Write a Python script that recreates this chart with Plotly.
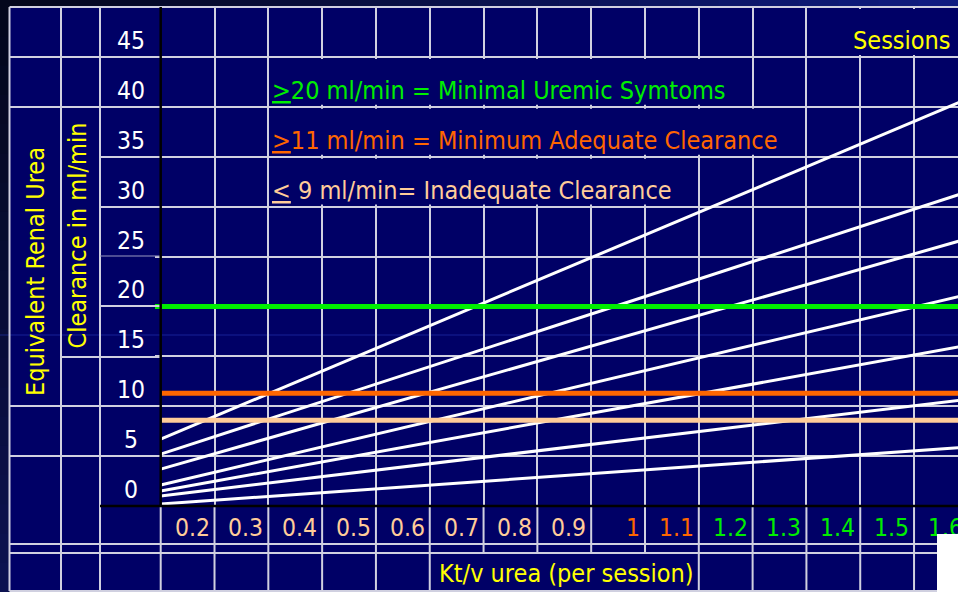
import plotly.graph_objects as go

# ---------------- data ----------------
ktv_span = [0.1, 1.6]                 # Kt/V at the two ends of every session line
session_line_1 = [6.7, 40.8]
session_line_2 = [5.2, 31.5]
session_line_3 = [3.7, 26.8]
session_line_4 = [2.1, 21.2]
session_line_5 = [1.5, 16.1]
session_line_6 = [1.0, 10.7]
session_line_7 = [0.2, 5.9]
session_lines = [session_line_1, session_line_2, session_line_3, session_line_4,
                 session_line_5, session_line_6, session_line_7]

threshold_values = [20.0, 11.3, 8.6]          # ml/min
threshold_start = [0.089, 0.1, 0.1]           # Kt/V where each threshold line starts
threshold_end = [1.6, 1.6, 1.6]

legend_texts = ["<u>&gt;</u>20 ml/min = Minimal Uremic Symtoms",
                "<u>&gt;</u>11 ml/min = Minimum Adequate Clearance",
                "<u>&lt;</u> 9 ml/min= Inadequate Clearance"]
legend_rows = [40, 35, 30]

x_tick_values = [0.2, 0.3, 0.4, 0.5, 0.6, 0.7, 0.8, 0.9, 1.0, 1.1, 1.2, 1.3, 1.4, 1.5, 1.6]
x_tick_labels = ["0.2", "0.3", "0.4", "0.5", "0.6", "0.7", "0.8", "0.9",
                 "1", "1.1", "1.2", "1.3", "1.4", "1.5", "1.6"]
y_tick_values = [0, 5, 10, 15, 20, 25, 30, 35, 40, 45]
y_tick_labels = ["0", "5", "10", "15", "20", "25", "30", "35", "40", "45"]

y_title_1 = "Equivalent Renal Urea"
y_title_2 = "Clearance in ml/min"
x_title = "Kt/v urea (per session)"
corner_title = "Sessions"

# ---------------- styles / layout ----------------
GREEN, ORANGE, PEACH = "#00EE00", "#FF6600", "#FFCC99"
threshold_colors = [GREEN, ORANGE, PEACH]
x_label_colors = [PEACH] * 8 + [ORANGE] * 2 + [GREEN] * 5
YELLOW = "#FFFF00"
NAVY = "#000066"
GRID = "#D0D0E0"
FONT = "'DejaVu Sans Condensed', 'Liberation Sans Narrow', sans-serif"
TXT = 25
TICK = 24.5

W, H = 958, 592
ML, MT, MB = 155, 7, 86
PW, PH = W - ML, H - MT - MB
X0PX, PXU = 160.7, 538.1          # pixel of Kt/V 0.1, pixels per Kt/V unit
XR = [0.1 - (X0PX - ML) / PXU, 0.1 + (W - X0PX) / PXU]
YR = [0, 50]


def px_of(v):
    return X0PX + (v - 0.1) * PXU


def paper_x(px):
    return (px - ML) / PW


def paper_y(py):
    return (MT + PH - py) / PH


fig = go.Figure()

for vals in session_lines:
    fig.add_trace(go.Scatter(x=ktv_span, y=vals, mode="lines",
                             line=dict(color="white", width=3),
                             hoverinfo="skip", showlegend=False))
for v, c, s, e in zip(threshold_values, threshold_colors, threshold_start, threshold_end):
    fig.add_trace(go.Scatter(x=[s, e], y=[v, v], mode="lines",
                             line=dict(color=c, width=5),
                             hoverinfo="skip", showlegend=False))

shapes = []


def pline(x0, y0, x1, y1, color=GRID, width=2, layer="above"):
    shapes.append(dict(type="line", xref="paper", yref="paper",
                       x0=paper_x(x0), x1=paper_x(x1), y0=paper_y(y0), y1=paper_y(y1),
                       line=dict(color=color, width=width), layer=layer))


def prect(x0, y0, x1, y1, color, layer="below"):
    shapes.append(dict(type="rect", xref="paper", yref="paper",
                       x0=paper_x(x0), x1=paper_x(x1), y0=paper_y(y0), y1=paper_y(y1),
                       line=dict(width=0), fillcolor=color, layer=layer))


# outer background gradients
N = 24
for i in range(N):
    t = i / (N - 1)
    col = "rgb(%d,%d,%d)" % (4 + 12 * t, 7 + 21 * t, 28 + 100 * t)
    prect(i * W / N, 0, (i + 1) * W / N + 1, 7, col)
M = 20
for i in range(M):
    t = i / (M - 1)
    col = "rgb(%d,%d,%d)" % (4 + 8 * t, 7 + 11 * t, 28 + 52 * t)
    prect(0, 7 + i * (H - 7) / M, 9.5, 7 + (i + 1) * (H - 7) / M + 1, col)

# table body
prect(9.5, 7, W, 591, NAVY)
pline(0, 335, W, 335, color="rgba(40,60,190,0.55)", width=1, layer="below")

# left columns
for cx in [9.5, 61, 100]:
    pline(cx, 7, cx, 591)
pline(9.5, 7, W, 7)
for py in [57, 107, 406, 456]:
    pline(9.5, py, X0PX, py)
pline(61, 357, X0PX, 357)
for py in [157, 207, 306]:
    pline(100, py, X0PX, py)
pline(100, 256, X0PX, 256, color="#9A9AC0", width=1)
# bottom rows
for py in [544, 553, 591]:
    pline(9.5, py, W, py)
pline(X0PX, 506, X0PX, 591)
for v in x_tick_values[:-1]:
    pline(px_of(v), 506, px_of(v), 553)
    if not (0.65 < v < 1.05):
        pline(px_of(v), 553, px_of(v), 591)

# merged cells inside the grid (mask grid lines)
merged = [(45, 1.3, 1.7), (40, 0.3, 1.2), (35, 0.3, 1.3), (30, 0.3, 1.1)]
for lo, a, b in merged:
    shapes.append(dict(type="rect", xref="x", yref="y", x0=a + 0.004, x1=b - 0.004,
                       y0=lo + 0.2, y1=lo + 4.8, line=dict(width=0),
                       fillcolor=NAVY, layer="above"))

# black axes
pline(X0PX, 7, X0PX, 506, color="black", width=2.5)
pline(100, 506, W, 506, color="black", width=2.5)

annotations = []
for v, t in zip(y_tick_values, y_tick_labels):
    annotations.append(dict(xref="paper", yref="y", x=paper_x(130.5), y=v, text=t,
                            showarrow=False, xanchor="center", yanchor="middle", yshift=16.5,
                            borderpad=0, font=dict(family=FONT, size=TICK, color="white")))
for v, t, c in zip(x_tick_values, x_tick_labels, x_label_colors):
    annotations.append(dict(xref="paper", yref="paper", x=paper_x(px_of(v)), y=0, text=t,
                            showarrow=False, xanchor="right", yanchor="middle",
                            xshift=-4, yshift=-21.3, borderpad=0,
                            font=dict(family=FONT, size=TICK, color=c)))
for t, r, c in zip(legend_texts, legend_rows, threshold_colors):
    annotations.append(dict(xref="x", yref="y", x=0.3, y=r, text=t, showarrow=False,
                            xanchor="left", yanchor="middle", xshift=3, yshift=16.5,
                            borderpad=0, font=dict(family=FONT, size=TXT, color=c)))
annotations.append(dict(xref="x", yref="y", x=1.3, y=45, text=corner_title, showarrow=False,
                        xanchor="left", yanchor="middle", xshift=45.5, yshift=16.5,
                        borderpad=0, font=dict(family=FONT, size=TXT, color=YELLOW)))
annotations.append(dict(xref="paper", yref="paper", x=paper_x(35.5), y=paper_y(271.5),
                        text=y_title_1, textangle=-90, showarrow=False,
                        xanchor="center", yanchor="middle", borderpad=0,
                        font=dict(family=FONT, size=TXT, color=YELLOW)))
annotations.append(dict(xref="paper", yref="paper", x=paper_x(77), y=paper_y(235.5),
                        text=y_title_2, textangle=-90, showarrow=False,
                        xanchor="center", yanchor="middle", borderpad=0,
                        font=dict(family=FONT, size=TXT, color=YELLOW)))
annotations.append(dict(xref="paper", yref="paper", x=paper_x(566), y=paper_y(573),
                        text=x_title, showarrow=False, xanchor="center", yanchor="middle",
                        borderpad=0, font=dict(family=FONT, size=TXT, color=YELLOW)))
# white patch in the lower-right corner of the slide
annotations.append(dict(xref="paper", yref="paper", x=paper_x(937), y=paper_y(534),
                        text=" ", showarrow=False, xanchor="left", yanchor="top",
                        width=21, height=58, bgcolor="#FFFFFF", borderpad=0, borderwidth=0,
                        font=dict(size=10)))

fig.update_layout(
    width=W, height=H, margin=dict(l=ML, r=0, t=MT, b=MB, pad=0),
    paper_bgcolor="#05091f", plot_bgcolor=NAVY,
    shapes=shapes, annotations=annotations, showlegend=False,
    xaxis=dict(range=XR, tickvals=x_tick_values[:-1], showticklabels=False, ticks="",
               showgrid=True, gridcolor=GRID, gridwidth=2, zeroline=False, showline=False,
               fixedrange=True),
    yaxis=dict(range=YR, tickvals=y_tick_values[1:], showticklabels=False, ticks="",
               showgrid=True, gridcolor=GRID, gridwidth=2, zeroline=False, showline=False,
               fixedrange=True),
)

fig.write_html("out.html", config={"displayModeBar": False},
               post_script="document.body.style.margin='0';"
                           "document.body.style.overflow='hidden';")
